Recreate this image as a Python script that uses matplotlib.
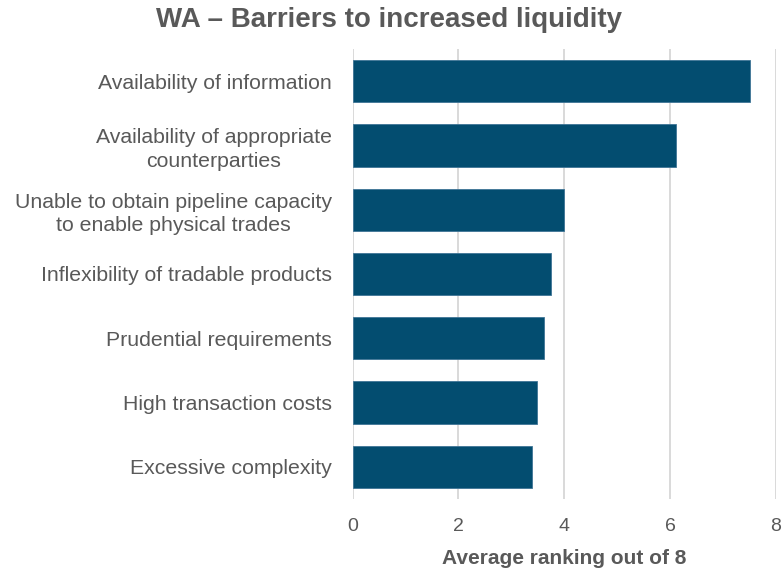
import matplotlib.pyplot as plt

plt.rcParams['font.family'] = ['Liberation Sans', 'DejaVu Sans']

# Barriers, listed top to bottom, with their average ranking
barriers = [
    "Availability of information",
    "Availability of appropriate\ncounterparties",
    "Unable to obtain pipeline capacity\nto enable physical trades",
    "Inflexibility of tradable products",
    "Prudential requirements",
    "High transaction costs",
    "Excessive complexity",
]
avg_ranking = [7.51, 6.12, 4.00, 3.76, 3.62, 3.49, 3.40]
x_ticks = [0, 2, 4, 6, 8]

text_grey = '#595959'
bar_blue = '#034D70'

fig = plt.figure(figsize=(7.83, 5.70), dpi=100)
ax = fig.add_axes([0.4504, 0.1246, 0.5403, 0.7894])

pos = list(range(len(barriers)))
ax.barh(pos, avg_ranking, height=0.66, color=bar_blue,
        edgecolor='#3F7596', linewidth=0.6, zorder=3)

ax.set_ylim(len(barriers) - 0.5, -0.5)
ax.set_xlim(0, 8)
ax.set_xticks(x_ticks)
ax.set_xticklabels([str(t) for t in x_ticks])
ax.set_yticks(pos)
ax.set_yticklabels(barriers, multialignment='center', fontsize=15.3,
                   linespacing=1.3)

ax.grid(axis='x', color='#D9D9D9', linewidth=1.4, zorder=0)
for s in ax.spines.values():
    s.set_visible(False)
ax.tick_params(axis='both', length=0, colors=text_grey)
ax.tick_params(axis='x', pad=14, labelsize=14)
ax.tick_params(axis='y', pad=15)

ax.set_xlabel('Average ranking out of 8', fontsize=15, fontweight='bold',
              color=text_grey, labelpad=9.5)

fig.text(0.497, 1 - 20 / 570, 'WA – Barriers to increased liquidity',
         ha='center', va='center', fontsize=20, fontweight='bold', color=text_grey)

fig.savefig('out.png', dpi=100)
